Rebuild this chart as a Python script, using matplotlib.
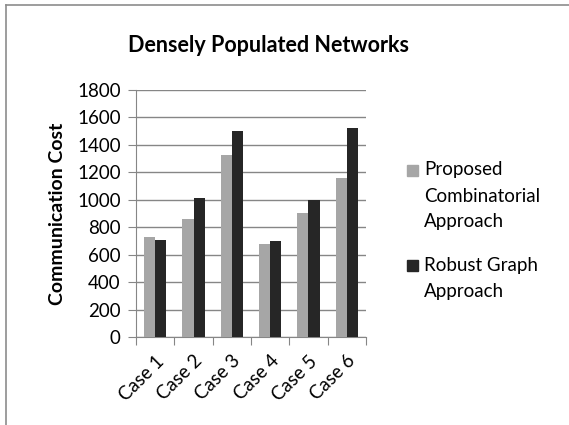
import matplotlib
matplotlib.use("Agg")
import matplotlib.pyplot as plt
from matplotlib.lines import Line2D
from matplotlib.patches import Rectangle
import numpy as np

plt.rcParams['font.family'] = ['Lato', 'DejaVu Sans']

categories = ["Case 1", "Case 2", "Case 3", "Case 4", "Case 5", "Case 6"]
proposed = [727, 860, 1327, 680, 904, 1157]
robust = [705, 1013, 1501, 700, 1000, 1523]
series_names = [["Proposed", "Combinatorial", "Approach"], ["Robust Graph", "Approach"]]
yticks = [0, 200, 400, 600, 800, 1000, 1200, 1400, 1600, 1800]

W, H = 569, 425
fig = plt.figure(figsize=(W / 100, H / 100), dpi=100)

# plot area in pixel coordinates
left, right, top, bottom = 136, 366, 90, 337
ax = fig.add_axes([left / W, 1 - bottom / H, (right - left) / W, (bottom - top) / H])

x = np.arange(len(categories))
bw = 0.29
c_prop = "#a6a6a6"
c_rob = "#262626"
ax.bar(x - bw / 2, proposed, width=bw, color=c_prop, zorder=3)
ax.bar(x + bw / 2, robust, width=bw, color=c_rob, zorder=3)

fs = 13.5
ax.set_xlim(-0.5, len(categories) - 0.5)
ax.set_ylim(0, 1800)
ax.set_yticks(yticks)
ax.set_yticklabels([str(v) for v in yticks], fontsize=fs)
grid_c = "#868686"
ax.grid(axis='y', color=grid_c, linewidth=1.0, zorder=0)

for s in ["top", "right"]:
    ax.spines[s].set_visible(False)
ax.spines["left"].set_color(grid_c)
ax.spines["bottom"].set_color(grid_c)
ax.tick_params(axis='y', direction='out', length=6, color=grid_c, pad=5)

# category boundary ticks on the x axis
ax.set_xticks(np.arange(len(categories) + 1) - 0.5, minor=False)
ax.set_xticklabels([])
ax.tick_params(axis='x', direction='out', length=6, color=grid_c)
ax.set_xticks(x, minor=True)
ax.set_xticklabels(categories, minor=True, rotation=45, ha='right',
                   rotation_mode='anchor', fontsize=fs)
ax.tick_params(axis='x', which='minor', length=0, pad=11)

ax.set_ylabel("Communication Cost", fontsize=14, fontweight='bold', labelpad=8)

fig.text(268 / W, 1 - 46 / H, "Densely Populated Networks", ha='center', va='center',
         fontsize=15.5, fontweight='bold')

# legend: colour square beside the first line of each wrapped label
legend_colors = [c_prop, c_rob]
legend_first_y = [170, 265]
line_gap = 26
for color, lines, y0 in zip(legend_colors, series_names, legend_first_y):
    fig.add_artist(Rectangle((407 / W, 1 - (y0 + 5.5) / H), 11 / W, 11 / H,
                             color=color, transform=fig.transFigure))
    for i, line in enumerate(lines):
        fig.text(424 / W, 1 - (y0 + i * line_gap) / H, line, ha='left', va='center',
                 fontsize=fs)

# outer frame (top and left edges)
fig.add_artist(Line2D([6 / W, 6 / W], [0, 1 - 5 / H], color="#8c8c8c", linewidth=1.2,
                      transform=fig.transFigure))
fig.add_artist(Line2D([6 / W, 1], [1 - 5 / H, 1 - 5 / H], color="#8c8c8c", linewidth=1.2,
                      transform=fig.transFigure))

fig.savefig("out.png", dpi=100)
